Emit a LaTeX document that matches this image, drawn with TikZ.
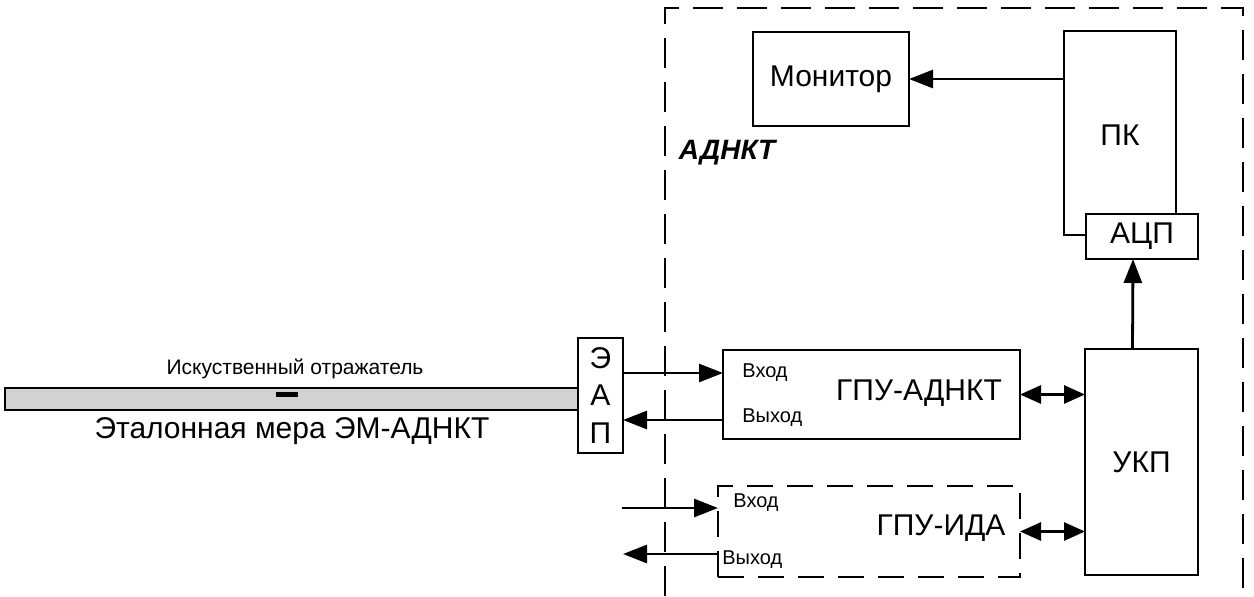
\documentclass[tikz,border=0pt]{standalone}
\usepackage{fontspec}
\setmainfont{Liberation Sans}
\usetikzlibrary{arrows.meta}
\tikzset{
  x=0.5pt, y=-0.5pt,
  blk/.style={draw, line width=1.4pt, inner sep=0pt, outer sep=0pt, fill=white},
  arr/.style={line width=1.4pt, -{Triangle[length=12pt,width=9pt]}},
  darr/.style={line width=1.4pt, {Triangle[length=10.5pt,width=9pt]}-{Triangle[length=10.5pt,width=9pt]}},
  frame/.style={line width=1.4pt, dash pattern=on 15pt off 7pt},
  big/.style={font=\fontsize{15pt}{18pt}\selectfont},
  small/.style={font=\fontsize{10pt}{12pt}\selectfont},
}
\begin{document}
\begin{tikzpicture}
\useasboundingbox (0,0) rectangle (1254,596);
% outer frame АДНКТ
\coordinate (fbl) at (665,596);
\coordinate (ftl) at (665,8);
\coordinate (ftr) at (1243,8);
\coordinate (fbr) at (1243,596);
\draw[frame] (fbl) -- (ftl) -- (ftr) -- (fbr);
\node[font=\fontsize{14pt}{17pt}\selectfont\bfseries\itshape] (adnkt) at (727,153) {АДНКТ};
% bar
\node[blk, fill=gray!35, minimum width=286.5pt, minimum height=11pt] (bar) at (291.5,399) {};
\node[fill=black, inner sep=0pt, minimum width=11pt, minimum height=2.5pt] (refl) at (287,394.5) {};
\node[font=\fontsize{10.5pt}{12pt}\selectfont] (refltxt) at (295,369) {Искуственный отражатель};
\node[big] (bartxt) at (292,431) {Эталонная мера ЭМ-АДНКТ};
% ЭАП
\node[blk, minimum width=22.5pt, minimum height=57.5pt] (eap) at (600.5,395.5) {};
\node[big] (e1) at (600.5,358) {Э};
\node[big] (e2) at (600.5,395) {А};
\node[big] (e3) at (600.5,433) {П};
% ГПУ-АДНКТ
\node[blk, minimum width=148.5pt, minimum height=44.5pt] (gpua) at (871.5,394.5) {};
\node[big] (gpuatxt) at (919,393) {ГПУ-АДНКТ};
\node[small, anchor=west, inner sep=0pt] (gpuain) at (742,373) {Вход};
\node[small, anchor=west, inner sep=0pt] (gpuaout) at (742,418) {Выход};
% ГПУ-ИДА
\node[blk, fill=none, dash pattern=on 13pt off 7pt, minimum width=151pt, minimum height=45.5pt] (gpui) at (869,531.5) {};
\node[big] (gpuitxt) at (941,528) {ГПУ-ИДА};
\node[small, anchor=west, inner sep=0pt] (gpuiin) at (733,503) {Вход};
\node[small, anchor=west, inner sep=0pt] (gpuiout) at (722,560) {Выход};
% УКП, ПК, АЦП, Монитор
\node[blk, minimum width=56.5pt, minimum height=113pt] (ukp) at (1141.5,462) {};
\node[big] (ukptxt) at (1141.5,462) {УКП};
\node[blk, minimum width=56pt, minimum height=102pt] (pk) at (1120,133) {};
\node[big] (pktxt) at (1120,135) {ПК};
\node[blk, minimum width=56pt, minimum height=22.5pt] (adc) at (1142,236.5) {};
\node[big] (adctxt) at (1142,236.5) {АЦП};
\node[blk, minimum width=78pt, minimum height=47pt] (mon) at (831,79) {};
\node[big] (montxt) at (831,79) {Монитор};
% connectors
\draw[arr] (pk.west |- mon.east) -- (mon.east);
\draw[arr] ([xshift=-4.5pt]ukp.north) -- ([xshift=-4.5pt]adc.south);
\draw[darr] (gpua.east) -- (gpua.east -| ukp.west);
\draw[darr] (gpui.east) -- (gpui.east -| ukp.west);
\coordinate (ein) at (623,373);
\coordinate (eout) at (623,420);
\draw[arr] (ein) -- (ein -| gpua.west);
\draw[arr] (eout -| gpua.west) -- (eout);
\coordinate (iin) at (622,508);
\coordinate (iout) at (623,554);
\draw[arr] (iin) -- (iin -| gpui.west);
\draw[arr] (iout -| gpui.west) -- (iout);
\end{tikzpicture}
\end{document}
